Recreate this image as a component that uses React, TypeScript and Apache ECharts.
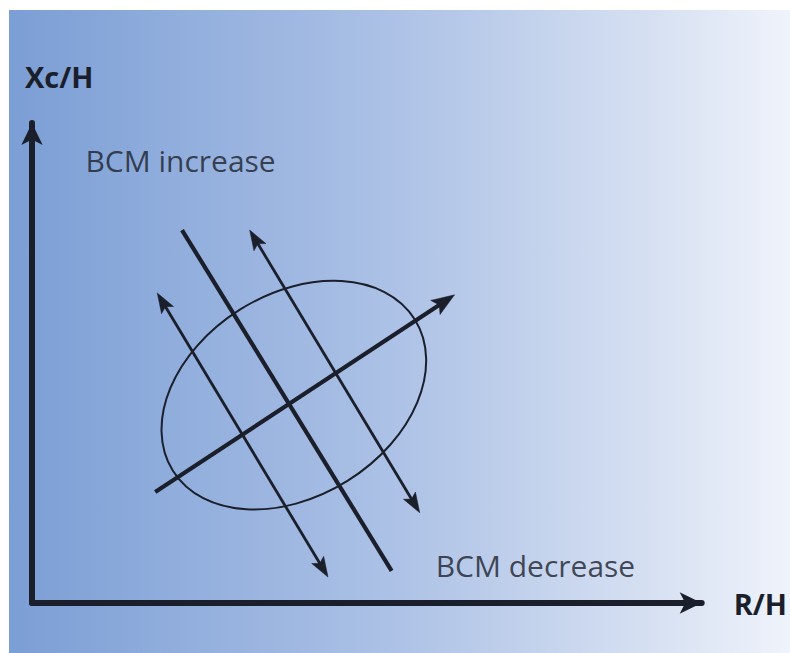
import React, { useEffect, useRef } from "react";
import * as echarts from "echarts";

// Diagram data (axis units 0..10)
const axisNames = { x: "R/H", y: "Xc/H" };
const labels = ["BCM increase", "BCM decrease"];
const labelPos: [number, number][] = [
  [0.79, 9.21],
  [6.02, 0.79],
];
// double-headed thin arrows: [x1, y1, x2, y2]
const doubleArrows: number[][] = [
  [1.87, 6.46, 4.42, 0.54],
  [3.25, 7.77, 5.79, 1.88],
];
// thick line, no heads
const thickLine: number[][] = [[2.24, 7.77, 5.37, 0.67]];
// thick arrow (head at end)
const majorArrow: number[][] = [[1.84, 2.31, 6.31, 6.42]];
// ellipse: center, semi-axes (x units), angle (deg)
const ellipseCenter: [number, number] = [3.91, 4.33];
const ellipseAxes: [number, number] = [2.13, 1.51];
const ellipseAngle = 32;

const INK = "#1b1f2c";
const FONT = "Open Sans";

function arrowSeries(
  data: number[][],
  width: number,
  headStart: boolean,
  headEnd: boolean,
  headLen: number,
  headHalf: number
) {
  return {
    type: "custom",
    coordinateSystem: "cartesian2d",
    data,
    z: 3,
    silent: true,
    renderItem: (params: any, api: any) => {
      const p1 = api.coord([api.value(0), api.value(1)]);
      const p2 = api.coord([api.value(2), api.value(3)]);
      const dx = p2[0] - p1[0];
      const dy = p2[1] - p1[1];
      const len = Math.sqrt(dx * dx + dy * dy);
      const ux = dx / len;
      const uy = dy / len;
      const head = (tip: number[], sx: number, sy: number) => {
        const bx = tip[0] - sx * headLen;
        const by = tip[1] - sy * headLen;
        const mx = tip[0] - sx * headLen * 0.8;
        const my = tip[1] - sy * headLen * 0.8;
        return {
          type: "polygon",
          shape: {
            points: [
              tip,
              [bx - sy * headHalf, by + sx * headHalf],
              [mx, my],
              [bx + sy * headHalf, by - sx * headHalf],
            ],
          },
          style: { fill: INK, stroke: INK, lineWidth: 0.5 },
        };
      };
      const a = headStart
        ? [p1[0] + ux * headLen * 0.7, p1[1] + uy * headLen * 0.7]
        : p1;
      const b = headEnd
        ? [p2[0] - ux * headLen * 0.7, p2[1] - uy * headLen * 0.7]
        : p2;
      const children: any[] = [
        {
          type: "line",
          shape: { x1: a[0], y1: a[1], x2: b[0], y2: b[1] },
          style: { stroke: INK, lineWidth: width, fill: "none" },
        },
      ];
      if (headStart) children.push(head(p1, -ux, -uy));
      if (headEnd) children.push(head(p2, ux, uy));
      return { type: "group", children };
    },
  };
}

export default function App() {
  const ref = useRef<HTMLDivElement>(null);
  useEffect(() => {
    if (!ref.current) return;
    const chart = echarts.init(ref.current, undefined, { renderer: "svg" });
    const axisCommon = {
      type: "value" as const,
      min: 0,
      max: 10,
      axisTick: { show: false },
      axisLabel: { show: false },
      splitLine: { show: false },
      axisLine: {
        show: true,
        lineStyle: { color: INK, width: 6 },
        symbol: ["none", "arrow"],
        symbolSize: [16, 22],
      },
      nameTextStyle: {
        fontFamily: FONT,
        fontWeight: "bold" as const,
        fontSize: 29,
        color: INK,
      },
    };
    chart.setOption({
      animation: false,
      backgroundColor: "#ffffff",
      grid: { left: 32, right: 88, top: 123, bottom: 50 },
      xAxis: {
        ...axisCommon,
        name: axisNames.x,
        nameLocation: "end",
        nameGap: 32,
      },
      yAxis: {
        ...axisCommon,
        name: axisNames.y,
        nameLocation: "end",
        nameGap: 32,
        nameTextStyle: { ...axisCommon.nameTextStyle, align: "left", padding: [0, 0, 0, -7] },
      },
      graphic: [
        {
          type: "rect",
          z: -100,
          silent: true,
          shape: { x: 9, y: 10, width: 781, height: 643 },
          style: {
            fill: new echarts.graphic.LinearGradient(0, 0, 1, 0, [
              { offset: 0, color: "#7b9ed5" },
              { offset: 0.5, color: "#adc2e6" },
              { offset: 0.82, color: "#d6e0f2" },
              { offset: 1, color: "#eff3fb" },
            ]),
          },
        },
      ],
      series: [
        arrowSeries(doubleArrows, 2.8, true, true, 20, 7),
        arrowSeries(thickLine, 4.2, false, false, 0, 0),
        arrowSeries(majorArrow, 4.2, false, true, 23, 8.5),
        {
          type: "custom",
          coordinateSystem: "cartesian2d",
          data: [ellipseCenter],
          z: 2,
          silent: true,
          renderItem: (params: any, api: any) => {
            const c = api.coord([api.value(0), api.value(1)]);
            const a = api.size([ellipseAxes[0], 0])[0];
            const b = api.size([ellipseAxes[1], 0])[0];
            const t = (ellipseAngle * Math.PI) / 180;
            const u = [Math.cos(t), -Math.sin(t)];
            const v = [Math.sin(t), Math.cos(t)];
            const k = 0.5523;
            const P = (ca: number, cb: number) => [
              c[0] + ca * u[0] + cb * v[0],
              c[1] + ca * u[1] + cb * v[1],
            ];
            const f = (p: number[]) => `${p[0].toFixed(2)} ${p[1].toFixed(2)}`;
            const E0 = P(a, 0), E1 = P(0, b), E2 = P(-a, 0), E3 = P(0, -b);
            const d =
              `M${f(E0)} ` +
              `C${f(P(a, k * b))} ${f(P(k * a, b))} ${f(E1)} ` +
              `C${f(P(-k * a, b))} ${f(P(-a, k * b))} ${f(E2)} ` +
              `C${f(P(-a, -k * b))} ${f(P(-k * a, -b))} ${f(E3)} ` +
              `C${f(P(k * a, -b))} ${f(P(a, -k * b))} ${f(E0)} Z`;
            return {
              type: "path",
              shape: { pathData: d },
              style: { fill: "none", stroke: INK, lineWidth: 2 },
            };
          },
        },
        {
          type: "scatter",
          data: labelPos.map((p, i) => ({ value: p, name: labels[i] })),
          symbolSize: 1,
          itemStyle: { color: "transparent" },
          label: {
            show: true,
            position: "right",
            distance: 0,
            formatter: (p: any) => p.name,
            fontFamily: FONT,
            fontSize: 30,
            fontWeight: 500,
            color: INK,
          },
          silent: true,
          z: 4,
        },
      ],
    });
    return () => chart.dispose();
  }, []);
  return (
    <div
      ref={ref}
      style={{ position: "fixed", left: 0, top: 0, width: 790, height: 653 }}
    />
  );
}
